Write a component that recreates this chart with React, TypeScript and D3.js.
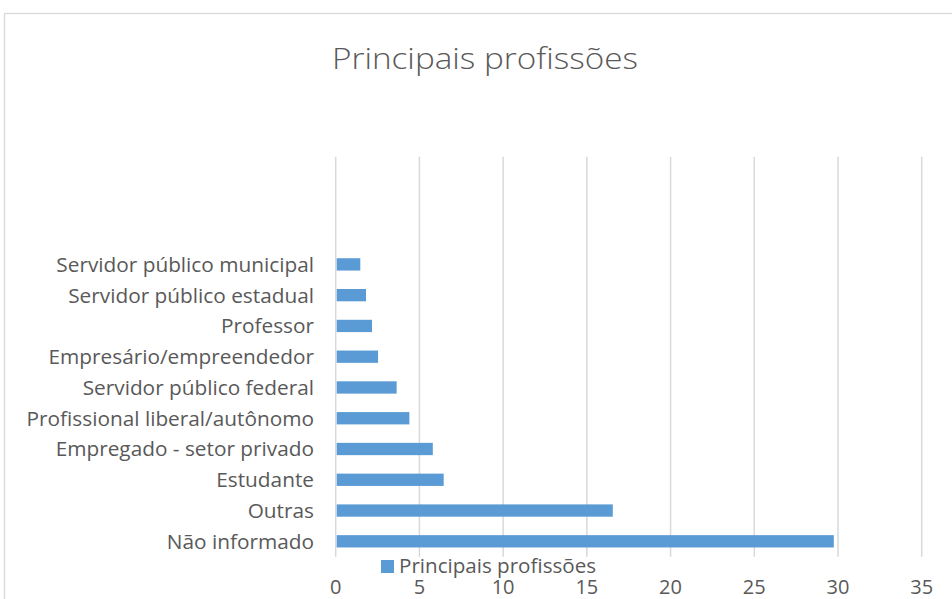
import React, { useEffect, useRef } from 'react';
import * as d3 from 'd3';

// bottom to top, as Excel plots them
const categories = [
  'Não informado',
  'Outras',
  'Estudante',
  'Empregado - setor privado',
  'Profissional liberal/autônomo',
  'Servidor público federal',
  'Empresário/empreendedor',
  'Professor',
  'Servidor público estadual',
  'Servidor público municipal',
];
const values = [29.75, 16.55, 6.45, 5.8, 4.4, 3.64, 2.53, 2.17, 1.81, 1.47];
const emptySlots = ['', ' ', '  ']; // blank categories above the bars
const xTicks = [0, 5, 10, 15, 20, 25, 30, 35];
const title = 'Principais profissões';
const seriesName = 'Principais profissões';

const App: React.FC = () => {
  const svgRef = useRef<SVGSVGElement>(null);

  useEffect(() => {
    if (!svgRef.current) return;
    const width = 952;
    const height = 599;
    const font = '"Open Sans", "Noto Sans", sans-serif';
    const textColor = '#595959';
    const plot = { left: 335.7, right: 921.7, top: 156.7, bottom: 556.7 };

    const svg = d3.select(svgRef.current);
    svg.selectAll('*').remove();
    svg.attr('width', width).attr('height', height);

    svg
      .append('rect')
      .attr('x', 4.5)
      .attr('y', 13.5)
      .attr('width', width + 20)
      .attr('height', height + 20)
      .attr('fill', '#fff')
      .attr('stroke', '#d9d9d9')
      .attr('stroke-width', 1.3);

    svg
      .append('text')
      .attr('x', 485)
      .attr('y', 69)
      .attr('text-anchor', 'middle')
      .attr('font-family', font)
      .attr('font-size', 29)
      .attr('font-weight', 300)
      .attr('fill', textColor)
      .attr('textLength', 306)
      .attr('lengthAdjust', 'spacingAndGlyphs')
      .text(title);

    const xScale = d3.scaleLinear().domain([0, 35]).range([plot.left, plot.right]);

    const yScale = d3
      .scaleBand<string>()
      .domain([...categories, ...emptySlots])
      .range([plot.bottom, plot.top])
      .paddingInner(0.6)
      .paddingOuter(0.3);

    // gridlines
    svg
      .append('g')
      .selectAll('line')
      .data(xTicks)
      .enter()
      .append('line')
      .attr('x1', (d) => xScale(d))
      .attr('x2', (d) => xScale(d))
      .attr('y1', plot.top)
      .attr('y2', plot.bottom)
      .attr('stroke', '#d9d9d9')
      .attr('stroke-width', 1.5);

    // bars
    svg
      .append('g')
      .selectAll('rect')
      .data(categories)
      .enter()
      .append('rect')
      .attr('x', xScale(0) + 1)
      .attr('y', (d) => yScale(d)!)
      .attr('width', (d, i) => xScale(values[i]) - xScale(0) - 1)
      .attr('height', yScale.bandwidth())
      .attr('fill', '#5b9bd5');

    // category labels
    svg
      .append('g')
      .selectAll('text')
      .data(categories)
      .enter()
      .append('text')
      .attr('x', 314)
      .attr('y', (d) => yScale(d)! + yScale.bandwidth() / 2)
      .attr('dy', '0.36em')
      .attr('text-anchor', 'end')
      .attr('font-family', font)
      .attr('font-size', 20.8)
      .attr('fill', textColor)
      .text((d) => d);

    // x tick labels
    svg
      .append('g')
      .selectAll('text')
      .data(xTicks)
      .enter()
      .append('text')
      .attr('x', (d) => xScale(d))
      .attr('y', 587)
      .attr('dy', '0.36em')
      .attr('text-anchor', 'middle')
      .attr('font-family', font)
      .attr('font-size', 20)
      .attr('fill', textColor)
      .text((d) => d);

    // legend
    const legend = svg.append('g');
    legend
      .append('rect')
      .attr('x', 381)
      .attr('y', 560)
      .attr('width', 13)
      .attr('height', 13)
      .attr('fill', '#5b9bd5');
    legend
      .append('text')
      .attr('x', 399)
      .attr('y', 566)
      .attr('dy', '0.36em')
      .attr('font-family', font)
      .attr('font-size', 20.6)
      .attr('fill', textColor)
      .text(seriesName);
  }, []);

  return (
    <div style={{ position: 'absolute', left: 0, top: 0 }}>
      <svg ref={svgRef} style={{ display: 'block' }}></svg>
    </div>
  );
};

export default App;
